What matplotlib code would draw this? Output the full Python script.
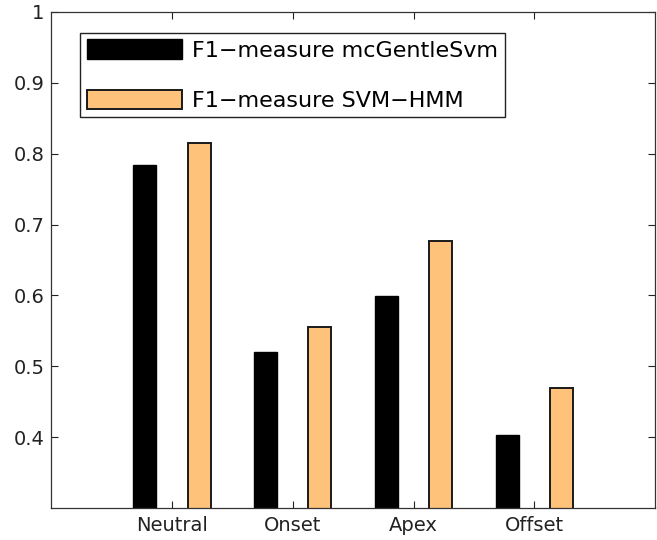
import matplotlib
matplotlib.use("Agg")
import matplotlib.pyplot as plt
import numpy as np

categories = ["Neutral", "Onset", "Apex", "Offset"]
mcgentle = [0.784, 0.520, 0.599, 0.403]
svmhmm = [0.815, 0.555, 0.677, 0.469]
labels = ["F1\u2212measure mcGentleSvm", "F1\u2212measure SVM\u2212HMM"]
yticks = [0.4, 0.5, 0.6, 0.7, 0.8, 0.9, 1.0]
yticklabels = ["0.4", "0.5", "0.6", "0.7", "0.8", "0.9", "1"]

plt.rcParams['font.family'] = ['DejaVu Sans']

fig = plt.figure(figsize=(6.57, 5.4), dpi=100)
ax = fig.add_axes([0.078, 0.059, 0.919, 0.919])

x = np.arange(1, len(categories) + 1)
off = 0.225
w = 0.19
ax.bar(x - off, mcgentle, width=w, bottom=0, color='black', edgecolor='black', linewidth=1, label=labels[0])
ax.bar(x + off, svmhmm, width=w, bottom=0, color='#FFC27A', edgecolor='#1a1a1a', linewidth=1.4, label=labels[1])

ax.set_xlim(0, 5)
ax.set_ylim(0.3, 1.0)
ax.set_xticks(x)
ax.set_xticklabels(categories, fontsize=14)
ax.set_yticks(yticks)
ax.set_yticklabels(yticklabels, fontsize=14)
ax.tick_params(direction='in', length=5, width=0.8, top=True, right=True, colors='#222222')
ax.tick_params(axis='x', pad=6)
ax.tick_params(axis='y', pad=5)
for s in ax.spines.values():
    s.set_linewidth(0.9)
    s.set_color('#333333')

leg = ax.legend(loc='upper left', bbox_to_anchor=(0.048, 0.958), borderaxespad=0,
                fontsize=16, handlelength=4.3, handleheight=0.95, labelspacing=1.3,
                handletextpad=0.45, borderpad=0.3, fancybox=False, framealpha=1,
                edgecolor='#222222')
leg.get_frame().set_linewidth(1.0)

fig.savefig("out.png", dpi=100)
